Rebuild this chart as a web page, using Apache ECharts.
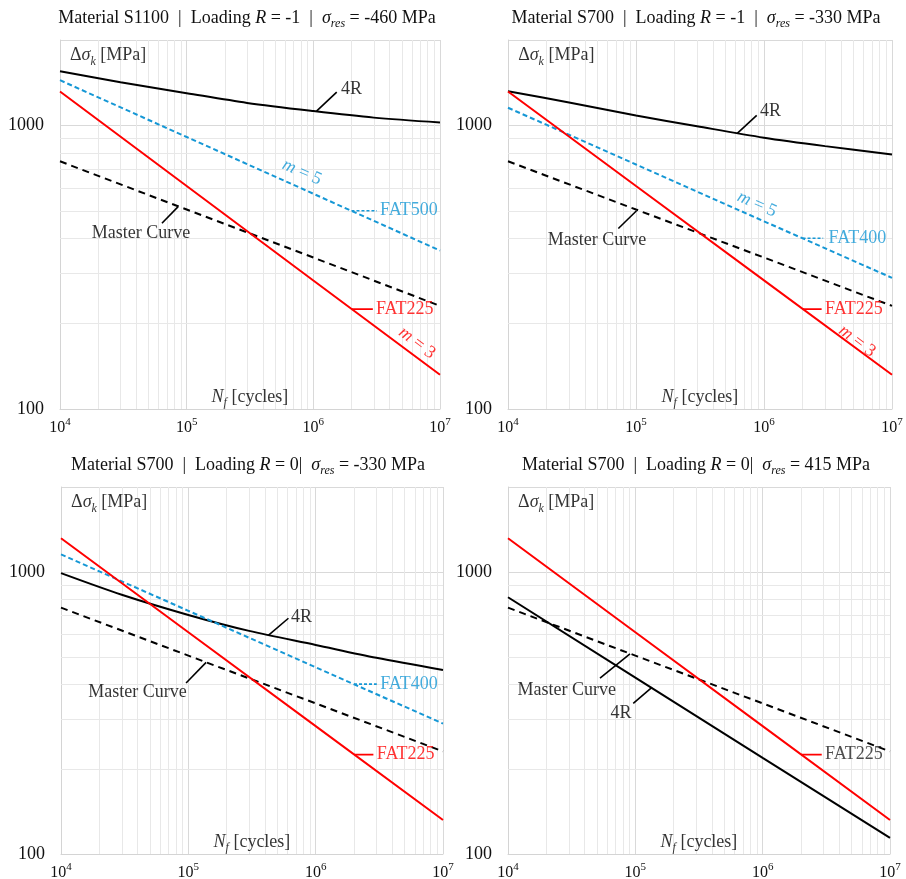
<!DOCTYPE html>
<html>
<head>
<meta charset="utf-8">
<script src="https://cdn.jsdelivr.net/npm/echarts@6/dist/echarts.min.js"></script>
<style>html,body{margin:0;padding:0;background:#fff}#c{width:906px;height:879px}</style>
</head>
<body>
<div id="c"></div>
<script>
const FONT = '"Liberation Serif", "Times New Roman", serif';
const BLACK = '#000000', RED = '#ff0000', BLUE = '#1597d5', TXT = '#000000';

// ---- tick / grid values ----
const xTicks = [1e4, 1e5, 1e6, 1e7];
const yTicks = [100, 1000];
const xMinor = [2e4,3e4,4e4,5e4,6e4,7e4,8e4,9e4, 2e5,3e5,4e5,5e5,6e5,7e5,8e5,9e5, 2e6,3e6,4e6,5e6,6e6,7e6,8e6,9e6];
const yMinor = [200,300,400,500,600,700,800,900];

// ---- data ----
const cycles = [1e4, 1e5, 1e6, 1e7];
const cycles4R = [1e4, 3e4, 1e5, 3e5, 1e6, 3e6, 1e7];
const fat225 = [1316, 611, 284, 132];
const fat500 = [1443, 910, 574, 362];
const fat400 = [1154, 728, 459, 290];
const master = [747, 505, 342, 231];
const r4_S1100_Rm1 = [1553, 1420, 1299, 1200, 1123, 1065, 1024];
const r4_S700_Rm1  = [1320, 1205, 1084, 993, 905, 845, 790];
const r4_S700_R0n  = [990, 830, 704, 618, 551, 496, 449];
const r4_S700_R0p  = [813, 422, 219, 114];

const titles = [
  'Material S1100  |  Loading {i|R} = -1  |  {i|σ}{sub|res} = -460 MPa',
  'Material S700  |  Loading {i|R} = -1  |  {i|σ}{sub|res} = -330 MPa',
  'Material S700  |  Loading {i|R} = 0|  {i|σ}{sub|res} = -330 MPa',
  'Material S700  |  Loading {i|R} = 0|  {i|σ}{sub|res} = 415 MPa'
];
const yName = 'Δ{i|σ}{sub|k} [MPa]';
const xName = '{i|N}{sub|f} [cycles]';

// ---- layout (pixels) ----
const grids = [
  {left: 60, top: 40, width: 380, height: 369},
  {left: 508, top: 40, width: 384, height: 369},
  {left: 61, top: 487, width: 382, height: 367},
  {left: 508, top: 487, width: 382, height: 367}
];
const titlePos = [[247, 18], [696, 18], [248, 465], [696, 465]];

const pts = (xs, ys) => xs.map((x, i) => [x, ys[i]]);

// curves per panel
const curves = [
  [
    {d: pts(cycles4R, r4_S1100_Rm1), c: BLACK, t: 'solid', smooth: true},
    {d: pts(cycles, fat500), c: BLUE, t: [5, 3]},
    {d: pts(cycles, master), c: BLACK, t: [7, 5]},
    {d: pts(cycles, fat225), c: RED, t: 'solid'}
  ],
  [
    {d: pts(cycles4R, r4_S700_Rm1), c: BLACK, t: 'solid', smooth: true},
    {d: pts(cycles, fat400), c: BLUE, t: [5, 3]},
    {d: pts(cycles, master), c: BLACK, t: [7, 5]},
    {d: pts(cycles, fat225), c: RED, t: 'solid'}
  ],
  [
    {d: pts(cycles4R, r4_S700_R0n), c: BLACK, t: 'solid', smooth: true},
    {d: pts(cycles, fat400), c: BLUE, t: [5, 3]},
    {d: pts(cycles, master), c: BLACK, t: [7, 5]},
    {d: pts(cycles, fat225), c: RED, t: 'solid'}
  ],
  [
    {d: pts(cycles, r4_S700_R0p), c: BLACK, t: 'solid'},
    {d: pts(cycles, master), c: BLACK, t: [7, 5]},
    {d: pts(cycles, fat225), c: RED, t: 'solid'}
  ]
];

// annotation texts (anchor in data coordinates)
const labels = [
  {p:0, t:'4R', x:1.65e6, y:1339, c:TXT, al:'left'},
  {p:0, t:'{i|m} = 5', x:8.13e5, y:683, c:BLUE, al:'center', rot:-24},
  {p:0, t:'FAT500', x:3.36e6, y:500, c:BLUE, al:'left'},
  {p:0, t:'FAT225', x:3.12e6, y:225, c:RED, al:'left'},
  {p:0, t:'{i|m} = 3', x:6.58e6, y:171, c:RED, al:'center', rot:-37},
  {p:0, t:'Master Curve', x:4.36e4, y:417, c:TXT, al:'center'},

  {p:1, t:'4R', x:9.31e5, y:1120, c:TXT, al:'left'},
  {p:1, t:'{i|m} = 5', x:8.81e5, y:527, c:BLUE, al:'center', rot:-24},
  {p:1, t:'FAT400', x:3.19e6, y:400, c:BLUE, al:'left'},
  {p:1, t:'FAT225', x:3.0e6, y:225, c:RED, al:'left'},
  {p:1, t:'{i|m} = 3', x:5.33e6, y:173.5, c:RED, al:'center', rot:-37},
  {p:1, t:'Master Curve', x:4.95e4, y:394, c:TXT, al:'center'},

  {p:2, t:'4R', x:6.41e5, y:692, c:TXT, al:'left'},
  {p:2, t:'FAT400', x:3.21e6, y:400, c:BLUE, al:'left'},
  {p:2, t:'FAT225', x:3.02e6, y:225, c:RED, al:'left'},
  {p:2, t:'Master Curve', x:3.99e4, y:375.5, c:TXT, al:'center'},

  {p:3, t:'Master Curve', x:2.89e4, y:381.6, c:TXT, al:'center'},
  {p:3, t:'4R', x:7.73e4, y:316, c:TXT, al:'center'},
  {p:3, t:'FAT225', x:3.09e6, y:225, c:'#222', al:'left'}
];
// axis-name anchors (data coordinates) for each panel
for (let p = 0; p < 4; p++) {
  labels.push({p: p, t: xName, x: 3.16e5, y: 110.3, c: TXT, al: 'center'});
  labels.push({p: p, t: yName, x: 1.2e4, y: 1764, c: TXT, al: 'left'});
}

// leader lines (data coordinates)
const leaders = [
  {p:0, a:[1.06e6,1123], b:[1.53e6,1310], c:BLACK},
  {p:0, a:[2e6,500], b:[3.18e6,500], c:BLUE, dash:true},
  {p:0, a:[2e6,225], b:[2.95e6,225], c:RED},
  {p:0, a:[6.38e4,452], b:[8.53e4,516], c:BLACK},

  {p:1, a:[6.18e5,937], b:[8.77e5,1084], c:BLACK},
  {p:1, a:[2e6,400], b:[2.9e6,400], c:BLUE, dash:true},
  {p:1, a:[2e6,225], b:[2.82e6,225], c:RED},
  {p:1, a:[7.28e4,433], b:[1.01e5,500], c:BLACK},

  {p:2, a:[4.25e5,596], b:[6.11e5,685], c:BLACK},
  {p:2, a:[2e6,400], b:[3.02e6,400], c:BLUE, dash:true},
  {p:2, a:[2e6,225], b:[2.84e6,225], c:RED},
  {p:2, a:[9.6e4,404], b:[1.38e5,478], c:BLACK},

  {p:3, a:[5.28e4,420], b:[9.08e4,512], c:BLACK},
  {p:3, a:[9.63e4,342], b:[1.35e5,390], c:BLACK},
  {p:3, a:[2e6,225], b:[2.91e6,225], c:RED}
];

const isPow10 = v => Math.abs(Math.log10(v) - Math.round(Math.log10(v))) < 1e-6;

const xAxes = [], yAxes = [], series = [];
for (let p = 0; p < 4; p++) {
  xAxes.push({
    type: 'log', gridIndex: p, min: xTicks[0], max: xTicks[xTicks.length - 1], logBase: 10,
    axisLine: {show: true, lineStyle: {color: '#d4d4d4', width: 1}},
    axisTick: {show: false},
    splitLine: {show: true, lineStyle: {color: '#d9d9d9', width: 1}},
    axisLabel: {
      margin: 8,
      formatter: v => isPow10(v) ? '{b|10}{s|' + Math.round(Math.log10(v)) + '}' : '',
      rich: {
        b: {fontFamily: FONT, fontSize: 16, color: '#111', lineHeight: 22, verticalAlign: 'middle'},
        s: {fontFamily: FONT, fontSize: 11, color: '#111', lineHeight: 12, verticalAlign: 'top'}
      }
    }
  });
  yAxes.push({
    type: 'log', gridIndex: p, min: yTicks[0], max: 2000, logBase: 10,
    axisLine: {show: true, lineStyle: {color: '#d4d4d4', width: 1}},
    axisTick: {show: false},
    splitLine: {show: true, lineStyle: {color: '#d9d9d9', width: 1}},
    axisLabel: {
      margin: 16, fontFamily: FONT, fontSize: 18, color: '#111',
      formatter: v => isPow10(v) ? String(Math.round(v)) : ''
    }
  });

  // minor grid lines (kept beneath the curves)
  series.push({
    type: 'line', xAxisIndex: p, yAxisIndex: p, z: 1, silent: true,
    data: [[1e4, 100]], symbol: 'none', lineStyle: {opacity: 0},
    markLine: {
      z: 1, silent: true, symbol: ['none', 'none'], label: {show: false}, animation: false,
      lineStyle: {color: '#e8e8e8', width: 1, type: 'solid'},
      emphasis: {disabled: true},
      data: xMinor.map(v => ({xAxis: v})).concat(yMinor.map(v => ({yAxis: v})))
    }
  });

  curves[p].forEach(cv => {
    series.push({
      type: 'line', xAxisIndex: p, yAxisIndex: p, z: 6, silent: true,
      data: cv.d, symbol: 'none', smooth: cv.smooth ? 0.3 : false,
      lineStyle: {color: cv.c, width: 2, type: cv.t}
    });
  });
}

leaders.forEach(l => {
  series.push({
    type: 'line', xAxisIndex: l.p, yAxisIndex: l.p, z: 7, silent: true,
    data: [l.a, l.b], symbol: 'none',
    lineStyle: {color: l.c, width: 1.6, type: l.dash ? [3, 2] : 'solid'}
  });
});

labels.forEach(l => {
  series.push({
    type: 'scatter', xAxisIndex: l.p, yAxisIndex: l.p, z: 8, silent: true,
    symbolSize: 1, itemStyle: {color: 'rgba(0,0,0,0)'},
    data: [{
      value: [l.x, l.y],
      label: {
        show: true, position: 'inside', formatter: l.t, align: l.al, verticalAlign: 'middle',
        rotate: l.rot || 0, fontFamily: FONT, fontSize: 18, color: l.c, lineHeight: 24,
        rich: {
          i: {fontFamily: FONT, fontSize: 18, fontStyle: 'italic', color: l.c, lineHeight: 24},
          sub: {fontFamily: FONT, fontSize: 12, fontStyle: 'italic', color: l.c, lineHeight: 10, verticalAlign: 'bottom'}
        }
      }
    }]
  });
});

const graphic = titles.map((t, p) => ({
  type: 'text', x: titlePos[p][0], y: titlePos[p][1], silent: true,
  style: {
    text: t, align: 'center', verticalAlign: 'middle',
    fontFamily: FONT, fontSize: 18, fill: '#111', lineHeight: 24,
    rich: {
      i: {fontFamily: FONT, fontSize: 18, fontStyle: 'italic', fill: '#111', color: '#111', lineHeight: 24},
      sub: {fontFamily: FONT, fontSize: 12, fontStyle: 'italic', fill: '#111', color: '#111', lineHeight: 10, verticalAlign: 'bottom'}
    }
  }
}));

const chart = echarts.init(document.getElementById('c'), null, {renderer: 'canvas'});
chart.setOption({
  animation: false,
  backgroundColor: '#fff',
  textStyle: {fontFamily: FONT},
  grid: grids.map(g => Object.assign({outerBoundsMode: 'none', containLabel: false}, g)),
  xAxis: xAxes,
  yAxis: yAxes,
  series: series,
  graphic: graphic
});
</script>
</body>
</html>
